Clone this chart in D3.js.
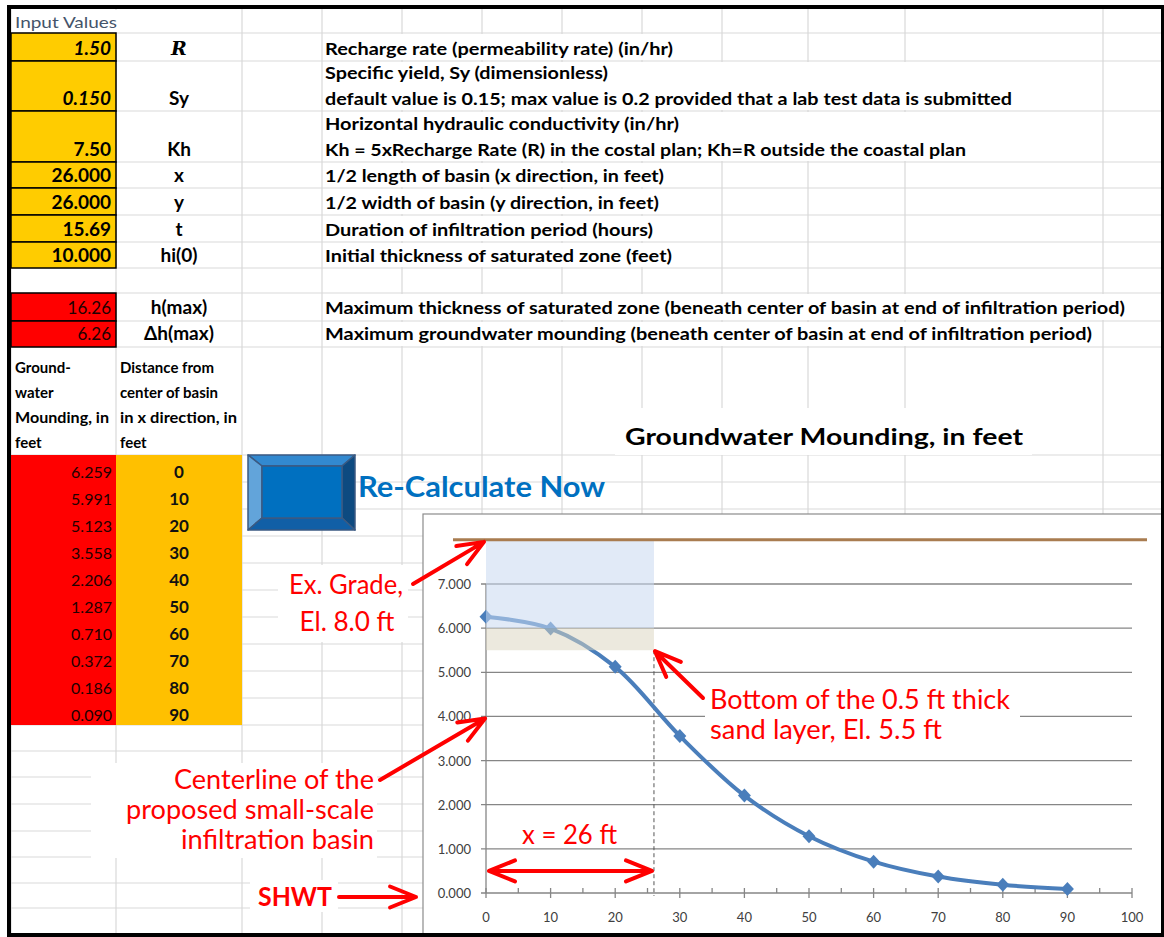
<!DOCTYPE html>
<html>
<head>
<meta charset="utf-8">
<script src="https://cdnjs.cloudflare.com/ajax/libs/d3/7.8.5/d3.min.js"></script>
<style>
body { margin: 0; background: #fff; }
svg { display: block; }
text { font-family: Lato, "Open Sans", sans-serif; }
</style>
</head>
<body>
<div id="plot"></div>
<script>

// ---- chart data ----
var distance = [0, 10, 20, 30, 40, 50, 60, 70, 80, 90];
var mounding = [6.259, 5.991, 5.123, 3.558, 2.206, 1.287, 0.710, 0.372, 0.186, 0.090];
var yTicks = [0, 1, 2, 3, 4, 5, 6, 7];
var xTicks = [0, 10, 20, 30, 40, 50, 60, 70, 80, 90, 100];
var xMinor = [5, 15, 25, 35, 45, 55, 65, 75, 85, 95];
var gradeEl = 8.0;        // existing grade
var sandTop = 6.0;        // sand layer shading
var sandBottom = 5.5;
var halfLength = 26;      // x = 26 ft
var chartTitle = 'Groundwater Mounding, in feet';

// ---- sheet values ----
var inputValues = ['1.50', '0.150', '7.50', '26.000', '26.000', '15.69', '10.000'];
var inputSymbols = ['R', 'Sy', 'Kh', 'x', 'y', 't', 'hi(0)'];
var inputNotes = [
  ['Recharge rate (permeability rate) (in/hr)'],
  ['Specific yield, Sy (dimensionless)', 'default value is 0.15; max value is 0.2 provided that a lab test data is submitted'],
  ['Horizontal hydraulic conductivity (in/hr)', 'Kh = 5xRecharge Rate (R) in the costal plan; Kh=R outside the coastal plan'],
  ['1/2 length of basin (x direction, in feet)'],
  ['1/2 width of basin (y direction, in feet)'],
  ['Duration of infiltration period (hours)'],
  ['Initial thickness of saturated zone (feet)']
];
var resultValues = ['16.26', '6.26'];
var resultSymbols = ['h(max)', '\u0394h(max)'];
var resultNotes = [
  'Maximum thickness of saturated zone (beneath center of basin at end of infiltration period)',
  'Maximum groundwater mounding (beneath center of basin at end of infiltration period)'
];
var moundHeader = ['Ground-', 'water', 'Mounding, in', 'feet'];
var distHeader = ['Distance from', 'center of basin', 'in x direction, in', 'feet'];

// ---- layout ----
var colX = [11, 116, 242, 322, 402, 482, 562, 642, 722, 808, 905, 1103, 1162];
var rowY = [9, 33, 61, 111, 162, 188, 215, 242, 268, 293, 321, 347]
  .concat(d3.range(11).map(function(i){ return 455 + 27 * i; }))
  .concat([751, 777, 804, 831, 857, 883, 908]);
var inputNoteW = [[348], [283, 687], [354, 641], [339], [334], [328], [347]];
var resultNoteW = [800, 767];
var gridColor = '#d9d9d9';

var svg = d3.select('#plot')
  .append('svg')
  .attr('width', 1164)
  .attr('height', 937);

function addText(g, str, x, y, opts) {
  opts = opts || {};
  var t = g.append('text')
    .attr('x', x)
    .attr('y', y)
    .attr('text-anchor', opts.anchor || 'start')
    .style('font-size', (opts.size || 16) + 'px')
    .style('font-weight', opts.weight || 'normal')
    .style('font-style', opts.style || 'normal')
    .style('fill', opts.fill || '#000')
    .text(str);
  if (opts.family) t.style('font-family', opts.family);
  if (opts.w) t.attr('textLength', opts.w).attr('lengthAdjust', 'spacingAndGlyphs');
  return t;
}

// ---- spreadsheet grid ----
var sheet = svg.append('g');
rowY.slice(1).forEach(function(y){
  sheet.append('line').attr('x1', colX[0]).attr('x2', 1162).attr('y1', y).attr('y2', y)
    .style('stroke', gridColor).style('stroke-width', 1.2);
});
colX.forEach(function(x){
  sheet.append('line').attr('x1', x).attr('x2', x).attr('y1', 9).attr('y2', 935)
    .style('stroke', gridColor).style('stroke-width', 1.2);
});

// white areas where text runs over neighbour cells
sheet.append('rect').attr('x', 12).attr('y', 10).attr('width', 108).attr('height', 22).style('fill', '#fff');
inputNotes.forEach(function(lines, i){
  var r = i + 1;
  var right = lines.length > 1 ? colX[11] - 1 : colX[3] + 3 + inputNoteW[i][0] + 4;
  sheet.append('rect')
    .attr('x', colX[3] + 1).attr('y', rowY[r] + 1)
    .attr('width', right - colX[3] - 1).attr('height', rowY[r + 1] - rowY[r] - 2)
    .style('fill', '#fff');
});
resultNotes.forEach(function(s, i){
  var r = i + 9;
  sheet.append('rect')
    .attr('x', colX[3] + 1).attr('y', rowY[r] + 1)
    .attr('width', resultNoteW[i] + 10).attr('height', rowY[r + 1] - rowY[r] - 2)
    .style('fill', '#fff');
});

// input cells
inputValues.forEach(function(v, i){
  var r = i + 1;
  sheet.append('rect')
    .attr('x', colX[0]).attr('y', rowY[r])
    .attr('width', colX[1] - colX[0]).attr('height', rowY[r + 1] - rowY[r])
    .style('fill', '#ffcc00').style('stroke', '#000').style('stroke-width', 1.5);
  var base = rowY[r + 1] - 6;
  addText(sheet, v, colX[1] - 5, base, {anchor: 'end', size: 19, weight: 'bold', style: i < 2 ? 'italic' : 'normal'});
  if (i === 0) {
    addText(sheet, inputSymbols[i], 179, base, {anchor: 'middle', size: 19, weight: 'bold', style: 'italic', family: '"DejaVu Serif", serif'});
  } else {
    addText(sheet, inputSymbols[i], 179, base, {anchor: 'middle', size: 19, weight: 'bold'});
  }
  var lines = inputNotes[i];
  lines.forEach(function(s, k){
    addText(sheet, s, colX[3] + 3, base - 26 * (lines.length - 1 - k), {size: 17, weight: 'bold', w: inputNoteW[i][k]});
  });
});
addText(sheet, 'Input Values', 15, 28, {size: 15, fill: '#44546a', w: 102});

// results
resultValues.forEach(function(v, i){
  var r = i + 9;
  sheet.append('rect')
    .attr('x', colX[0]).attr('y', rowY[r])
    .attr('width', colX[1] - colX[0]).attr('height', rowY[r + 1] - rowY[r])
    .style('fill', '#ff0000').style('stroke', '#000').style('stroke-width', 1.5);
  var base = rowY[r + 1] - 7;
  addText(sheet, v, colX[1] - 5, base, {anchor: 'end', size: 17, fill: '#200'});
  addText(sheet, resultSymbols[i], 179, base, {anchor: 'middle', size: 19, weight: 'bold'});
  addText(sheet, resultNotes[i], colX[3] + 3, base, {size: 17, weight: 'bold', w: resultNoteW[i]});
});

// table header
moundHeader.forEach(function(s, k){
  addText(sheet, s, 15, 373 + 25 * k, {size: 15, weight: 'bold', w: s === 'Mounding, in' ? 94 : null});
});
distHeader.forEach(function(s, k){
  addText(sheet, s, 120, 373 + 25 * k, {size: 15, weight: 'bold', w: s === 'in x direction, in' ? 117 : null});
});

// table rows
var fmt3 = d3.format('.3f');
sheet.append('rect').attr('x', colX[0]).attr('y', rowY[12]).attr('width', colX[1] - colX[0])
  .attr('height', rowY[22] - rowY[12]).style('fill', '#ff0000');
sheet.append('rect').attr('x', colX[1]).attr('y', rowY[12]).attr('width', colX[2] - colX[1])
  .attr('height', rowY[22] - rowY[12]).style('fill', '#ffc000');
mounding.forEach(function(v, i){
  var base = rowY[13 + i] - 4;
  addText(sheet, fmt3(v), colX[1] - 4, base, {anchor: 'end', size: 16, fill: '#200'});
  addText(sheet, distance[i], 179, base, {anchor: 'middle', size: 17, weight: 'bold', fill: '#111'});
});

// ---- Re-Calculate button ----
var btn = svg.append('g').style('stroke', '#3b5a82').style('stroke-width', 1.5).style('stroke-linejoin', 'round');
var bo = [248, 455, 355, 530], bi = [262, 466, 342, 518];
function poly(pts, fill) {
  btn.append('polygon').attr('points', pts.map(function(p){ return p.join(','); }).join(' ')).style('fill', fill);
}
poly([[bo[0], bo[1]], [bo[2], bo[1]], [bi[2], bi[1]], [bi[0], bi[1]]], '#3289d0');
poly([[bo[0], bo[1]], [bi[0], bi[1]], [bi[0], bi[3]], [bo[0], bo[3]]], '#62a4da');
poly([[bo[2], bo[1]], [bo[2], bo[3]], [bi[2], bi[3]], [bi[2], bi[1]]], '#0d4a80');
poly([[bo[0], bo[3]], [bi[0], bi[3]], [bi[2], bi[3]], [bo[2], bo[3]]], '#115fa6');
poly([[bi[0], bi[1]], [bi[2], bi[1]], [bi[2], bi[3]], [bi[0], bi[3]]], '#0070c0');
addText(svg, 'Re-Calculate Now', 358, 497, {size: 29, weight: 'bold', fill: '#0070c0', w: 247});

// ---- chart ----
svg.append('rect').attr('x', 615).attr('y', 408).attr('width', 417).attr('height', 47).style('fill', '#fff');
addText(svg, chartTitle, 824, 445, {anchor: 'middle', size: 23, weight: 'bold', w: 398});

svg.append('rect')
  .attr('x', 423).attr('y', 514).attr('width', 740).attr('height', 422)
  .style('fill', '#fff').style('stroke', '#8c8c8c').style('stroke-width', 1.2);

var x = d3.scaleLinear().domain([0, 100]).range([486, 1132]);
var y = d3.scaleLinear().domain([0, 7]).range([893, 584]);
var axisColor = '#868686';
var chart = svg.append('g');

// gridlines
chart.selectAll('.grid')
  .data(yTicks.slice(1))
  .enter().append('line')
  .attr('class', 'grid')
  .attr('x1', x(0) - 5).attr('x2', x(100))
  .attr('y1', function(d){ return y(d); }).attr('y2', function(d){ return y(d); })
  .style('stroke', axisColor).style('stroke-width', 1.3);

// axes
chart.append('line').attr('x1', x(0)).attr('x2', x(0)).attr('y1', y(7)).attr('y2', y(0))
  .style('stroke', axisColor).style('stroke-width', 1.3);
chart.append('line').attr('x1', x(0) - 5).attr('x2', x(100)).attr('y1', y(0)).attr('y2', y(0))
  .style('stroke', axisColor).style('stroke-width', 1.3);
chart.selectAll('.xtick')
  .data(xTicks)
  .enter().append('line')
  .attr('x1', function(d){ return x(d); }).attr('x2', function(d){ return x(d); })
  .attr('y1', y(0) - 5).attr('y2', y(0) + 5)
  .style('stroke', axisColor).style('stroke-width', 1.3);
chart.selectAll('.xminor')
  .data(xMinor)
  .enter().append('line')
  .attr('x1', function(d){ return x(d); }).attr('x2', function(d){ return x(d); })
  .attr('y1', y(0) - 5).attr('y2', y(0))
  .style('stroke', axisColor).style('stroke-width', 1.3);

chart.selectAll('.ylab')
  .data(yTicks)
  .enter().append('text')
  .attr('x', x(0) - 15)
  .attr('y', function(d){ return y(d) + 5; })
  .attr('text-anchor', 'end')
  .style('font-size', '13px')
  .style('fill', '#404040')
  .text(function(d){ return fmt3(d); });

chart.selectAll('.xlab')
  .data(xTicks)
  .enter().append('text')
  .attr('x', function(d){ return x(d); })
  .attr('y', y(0) + 29)
  .attr('text-anchor', 'middle')
  .style('font-size', '13px')
  .style('fill', '#404040')
  .text(function(d){ return d; });

// dashed edge of basin
chart.append('line')
  .attr('x1', x(halfLength)).attr('x2', x(halfLength))
  .attr('y1', y(sandBottom)).attr('y2', y(0) + 3)
  .style('stroke', '#555').style('stroke-width', 1).style('stroke-dasharray', '4,3');

// mounding series
var pts = distance.map(function(d, i){ return [x(d), y(mounding[i])]; });
chart.append('path')
  .attr('d', d3.line().curve(d3.curveCatmullRom.alpha(0.5))(pts))
  .style('fill', 'none').style('stroke', '#4a7ebb').style('stroke-width', 4);
chart.selectAll('.marker')
  .data(pts)
  .enter().append('path')
  .attr('d', 'M0,-7L6.5,0L0,7L-6.5,0Z')
  .attr('transform', function(p){ return 'translate(' + p[0] + ',' + p[1] + ')'; })
  .style('fill', '#4a7ebb');

// shaded zones over the curve
chart.append('rect')
  .attr('x', x(0)).attr('y', y(gradeEl))
  .attr('width', x(halfLength) - x(0)).attr('height', y(sandTop) - y(gradeEl))
  .style('fill', '#c9d9f0').style('opacity', 0.55);
chart.append('rect')
  .attr('x', x(0)).attr('y', y(sandTop))
  .attr('width', x(halfLength) - x(0)).attr('height', y(sandBottom) - y(sandTop))
  .style('fill', '#d9d4bd').style('opacity', 0.5);

// existing grade
chart.append('line')
  .attr('x1', x(0) - 33).attr('x2', x(100) + 15)
  .attr('y1', y(gradeEl)).attr('y2', y(gradeEl))
  .style('stroke', '#a97c50').style('stroke-width', 3);

// ---- annotations ----
var notes = svg.append('g');
var red = '#ff0000';
function whiteBox(x0, y0, x1, y1) {
  notes.append('rect').attr('x', x0).attr('y', y0).attr('width', x1 - x0).attr('height', y1 - y0).style('fill', '#fff');
}
function head(tx, ty, ang) {
  var len = 28, sp = 22 * Math.PI / 180;
  return 'M' + (tx - len * Math.cos(ang - sp)) + ',' + (ty - len * Math.sin(ang - sp)) +
    'L' + tx + ',' + ty +
    'L' + (tx - len * Math.cos(ang + sp)) + ',' + (ty - len * Math.sin(ang + sp));
}
function arrow(x1, y1, x2, y2, both) {
  var ang = Math.atan2(y2 - y1, x2 - x1);
  var d = 'M' + x1 + ',' + y1 + 'L' + x2 + ',' + y2 + head(x2, y2, ang);
  if (both) d += head(x1, y1, ang + Math.PI);
  notes.append('path').attr('d', d)
    .style('fill', 'none').style('stroke', red).style('stroke-width', 4)
    .style('stroke-linecap', 'round').style('stroke-linejoin', 'round');
}

whiteBox(278, 565, 408, 642);
addText(notes, 'Ex. Grade,', 346, 594, {anchor: 'middle', size: 26, fill: red, w: 114});
addText(notes, 'El. 8.0 ft', 347, 631, {anchor: 'middle', size: 26, fill: red, w: 95});
arrow(413, 584, x(0) - 2, y(gradeEl) + 2);

whiteBox(705, 680, 1020, 745);
addText(notes, 'Bottom of the 0.5 ft thick', 710, 709, {size: 26, fill: red, w: 300});
addText(notes, 'sand layer, El. 5.5 ft', 710, 739, {size: 26, fill: red, w: 232});
arrow(703, 698, x(halfLength) + 1, y(sandBottom) + 1);

whiteBox(91, 763, 377, 858);
addText(notes, 'Centerline of the', 374, 789, {anchor: 'end', size: 26, fill: red, w: 200});
addText(notes, 'proposed small-scale', 374, 819, {anchor: 'end', size: 26, fill: red, w: 248});
addText(notes, 'infiltration basin', 374, 849, {anchor: 'end', size: 26, fill: red, w: 193});
arrow(380, 780, x(0) - 1, y(4) + 2);

whiteBox(250, 880, 338, 912);
addText(notes, 'SHWT', 258, 906, {size: 26, weight: 'bold', fill: red, w: 74});
arrow(339, y(0) + 4, 416, y(0) + 4);

addText(notes, 'x = 26 ft', 522, 844, {size: 26, fill: red, w: 95});
arrow(x(0) + 3, y(0.5), x(halfLength) - 2, y(0.5), true);

// outer frame
svg.append('rect')
  .attr('x', 9).attr('y', 7).attr('width', 1154).attr('height', 928)
  .style('fill', 'none').style('stroke', '#000').style('stroke-width', 4);

</script>
</body>
</html>
